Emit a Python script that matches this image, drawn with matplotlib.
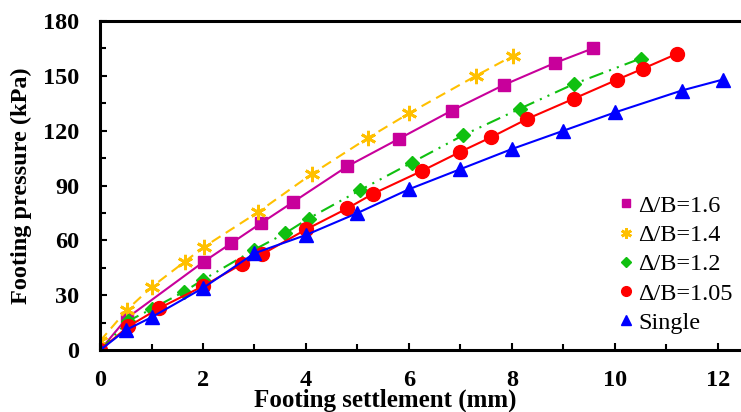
import numpy as np
import matplotlib.pyplot as plt
from matplotlib.ticker import MultipleLocator

# settlement (mm) / pressure (kPa)
x_16 = [0, 0.52, 2.02, 2.55, 3.13, 3.75, 4.8, 5.8, 6.83, 7.84, 8.83, 9.57]
y_16 = [0, 17.5, 48.5, 58.5, 69.5, 81, 100.5, 115.5, 131, 145, 157, 165]

x_14 = [0, 0.52, 1.0, 1.65, 2.02, 3.07, 4.12, 5.2, 6.0, 7.3, 8.02]
y_14 = [5, 22, 34.5, 48.5, 56.5, 75.5, 96.5, 116, 129.5, 150, 161]

x_12 = [0, 0.55, 1.0, 1.63, 2.0, 3.0, 3.6, 4.05, 5.05, 6.05, 7.05, 8.15, 9.2, 10.5]
y_12 = [0, 16, 22.5, 32, 38.5, 55, 64, 72, 87.5, 102.5, 117.5, 132, 145.5, 159.5]

x_105 = [0, 0.55, 1.15, 2.0, 2.75, 3.15, 4.0, 4.8, 5.3, 6.25, 7.0, 7.6, 8.3, 9.2, 10.05, 10.55, 11.2]
y_105 = [0, 13, 23, 35, 47, 52.5, 66, 77.5, 85.5, 98, 108.5, 116.5, 126.5, 137.5, 148, 154, 162]

x_single = [0, 0.5, 1.0, 2.0, 3.0, 4.0, 5.0, 6.0, 7.0, 8.0, 9.0, 10.0, 11.3, 12.1]
y_single = [0, 11, 18, 34, 53, 63, 75, 88, 99, 110, 120, 130, 142, 148]

plt.rcParams['font.family'] = ['Liberation Serif', 'DejaVu Serif']
FS = 17.5

fig = plt.figure(figsize=(7.41, 4.12), dpi=100)
ax = fig.add_axes([0.135, 0.150, 0.865, 0.799])

ax.plot(x_16, y_16, color='#c8009b', lw=1.5, marker='s', ms=9, label='Δ/B=1.6')
ax.plot(x_14, y_14, color='#ffc000', lw=1.5, ls=(0, (5, 3)), marker=(6, 2, 0), ms=11,
        mew=2, label='Δ/B=1.4')
ax.plot(x_12, y_12, color='#10c010', lw=1.5, ls=(0, (7, 3, 1, 3, 1, 3)), marker='D', ms=7.5,
        label='Δ/B=1.2')
ax.plot(x_105, y_105, color='#ff0000', lw=1.5, marker='o', ms=10, label='Δ/B=1.05')
ax.plot(x_single, y_single, color='#0000ff', lw=1.5, marker='^', ms=10, label='Single')

ax.set_xlim(0, 12.45)
ax.set_ylim(0, 180)
ax.xaxis.set_major_locator(MultipleLocator(2))
ax.xaxis.set_minor_locator(MultipleLocator(1))
ax.yaxis.set_major_locator(MultipleLocator(30))
ax.yaxis.set_minor_locator(MultipleLocator(15))

for s in ['left', 'bottom', 'top']:
    ax.spines[s].set_linewidth(2.2)
ax.spines['right'].set_visible(False)
ax.tick_params(which='both', direction='in', width=1.5)
ax.tick_params(which='major', length=5)
ax.tick_params(which='minor', length=4)
ax.tick_params(axis='y', which='both', right=False, pad=15)
ax.tick_params(axis='x', which='both', top=False, pad=14)
for lab in ax.get_xticklabels() + ax.get_yticklabels():
    lab.set_fontweight('bold')
    lab.set_fontsize(FS)

ax.set_xlabel('Footing settlement (mm)', fontsize=18, fontweight='bold')
ax.xaxis.set_label_coords(0.445, -0.118)
ax.set_ylabel('Footing pressure (kPa)', fontsize=FS, fontweight='bold', labelpad=8)

handles, labels = ax.get_legend_handles_labels()
leg = ax.legend(handles, labels, loc='lower right', bbox_to_anchor=(1.01, 0.005),
                frameon=False, fontsize=FS, handlelength=0.6, handletextpad=0.2,
                labelspacing=0.3, borderaxespad=0.2, markerscale=0.7)
for h in leg.legend_handles:
    h.set_linestyle('none')

fig.savefig('out.png', dpi=100)
